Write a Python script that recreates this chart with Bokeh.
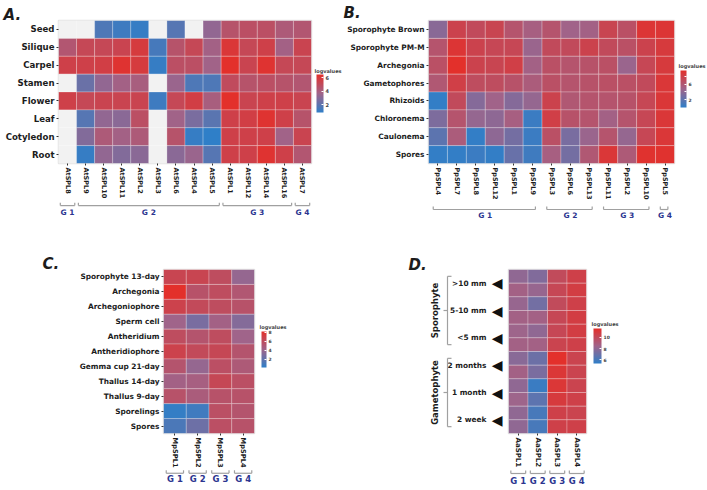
import math
import numpy as np
from bokeh.plotting import figure
from bokeh.models import (ColumnDataSource, LinearColorMapper, ColorBar, FixedTicker,
                          Range1d, LinearAxis)
from bokeh.layouts import row, column
from bokeh.embed import file_html
from bokeh.resources import INLINE
from bokeh.core.properties import value

NaN = float("nan")

# ---------------- Panel A: Arabidopsis thaliana ----------------
a_genes = ["AtSPL8", "AtSPL9", "AtSPL10", "AtSPL11", "AtSPL2", "AtSPL3", "AtSPL6",
           "AtSPL4", "AtSPL5", "AtSPL1", "AtSPL12", "AtSPL14", "AtSPL16", "AtSPL7"]
a_tissues = ["Seed", "Silique", "Carpel", "Stamen", "Flower", "Leaf", "Cotyledon", "Root"]
a_values = [
    [NaN, NaN, 1.6, 1.2, 1.0, NaN, 1.8, NaN, 3.3, 4.6, 4.8, 4.8, 4.2, 4.4],
    [4.4, 5.2, 5.2, 5.4, 5.9, 1.4, 4.6, 5.2, 3.8, 6.1, 5.2, 5.6, 3.8, 5.4],
    [5.6, 5.6, 5.7, 6.3, 5.9, 1.0, 4.8, 4.8, 3.7, 6.5, 5.4, 6.3, 5.2, 5.2],
    [NaN, 2.3, 3.3, 3.8, 4.0, NaN, 3.5, 1.6, 1.6, 5.0, 4.6, 4.8, 4.6, 4.4],
    [5.6, 5.2, 5.4, 5.4, 5.4, 1.2, 5.2, 5.7, 4.0, 6.5, 5.4, 5.6, 5.6, 5.4],
    [NaN, 1.8, 3.3, 3.1, 4.8, NaN, 3.7, 2.7, 1.9, 5.6, 5.7, 6.3, 5.6, 4.6],
    [NaN, 2.9, 4.2, 3.8, 4.2, NaN, 4.6, 1.0, 0.8, 5.6, 5.6, 5.6, 3.7, 5.4],
    [NaN, 1.0, 3.3, 2.9, 3.1, NaN, 3.1, 3.5, 1.8, 5.6, 5.6, 6.3, 5.6, 4.4],
]
a_group_names = ["G 1", "G 2", "G 3", "G 4"]
a_group_genes = [["AtSPL8"],
                 ["AtSPL9", "AtSPL10", "AtSPL11", "AtSPL2", "AtSPL3", "AtSPL6", "AtSPL4", "AtSPL5"],
                 ["AtSPL1", "AtSPL12", "AtSPL14", "AtSPL16"],
                 ["AtSPL7"]]
a_legend_ticks = [2, 4, 6]
a_limits = [0.8, 6.5]

# ---------------- Panel B: Physcomitrella patens ----------------
b_genes = ["PpSPL4", "PpSPL7", "PpSPL8", "PpSPL12", "PpSPL1", "PpSPL9", "PpSPL3",
           "PpSPL6", "PpSPL13", "PpSPL11", "PpSPL2", "PpSPL10", "PpSPL5"]
b_tissues = ["Sporophyte Brown", "Sporophyte PM-M", "Archegonia", "Gametophores",
             "Rhizoids", "Chloronema", "Caulonema", "Spores"]
b_values = [
    [3.8, 7.8, 7.1, 7.6, 6.2, 5.2, 6.2, 4.8, 5.0, 7.6, 6.6, 9.0, 9.0],
    [6.2, 9.0, 7.8, 7.4, 7.4, 4.5, 7.1, 7.1, 7.8, 7.1, 6.6, 7.8, 8.6],
    [6.6, 9.5, 7.8, 7.6, 8.1, 5.0, 6.6, 6.2, 6.4, 6.6, 4.5, 7.4, 8.6],
    [5.9, 8.1, 6.9, 6.9, 6.4, 5.5, 6.6, 6.2, 6.4, 6.6, 6.6, 7.1, 8.8],
    [0.2, 7.1, 3.6, 4.8, 3.6, 4.3, 7.8, 5.9, 6.2, 6.2, 6.4, 7.4, 8.8],
    [3.3, 6.2, 4.3, 4.0, 5.2, 0.5, 8.1, 6.4, 6.2, 5.0, 6.2, 7.4, 8.8],
    [1.9, 5.5, 0.2, 4.0, 2.9, 0.5, 6.6, 3.1, 4.5, 6.2, 4.3, 7.4, 8.8],
    [0.2, 0.2, 0.5, 0.2, 2.4, 0.7, 5.2, 2.9, 5.9, 8.8, 5.7, 9.3, 9.3],
]
b_group_names = ["G 1", "G 2", "G 3", "G 4"]
b_group_genes = [["PpSPL4", "PpSPL7", "PpSPL8", "PpSPL12", "PpSPL1", "PpSPL9"],
                 ["PpSPL3", "PpSPL6", "PpSPL13"],
                 ["PpSPL11", "PpSPL2", "PpSPL10"],
                 ["PpSPL5"]]
b_legend_ticks = [2, 4, 6, 8]
b_limits = [0.0, 9.5]

# ---------------- Panel C: Marchantia polymorpha ----------------
c_genes = ["MpSPL1", "MpSPL2", "MpSPL3", "MpSPL4"]
c_tissues = ["Sporophyte 13-day", "Archegonia", "Archegoniophore", "Sperm cell",
             "Antheridium", "Antheridiophore", "Gemma cup 21-day", "Thallus 14-day",
             "Thallus 9-day", "Sporelings", "Spores"]
c_values = [
    [6.6, 6.6, 6.0, 3.8],
    [8.2, 5.6, 6.0, 5.2],
    [6.8, 6.2, 6.0, 5.6],
    [4.2, 2.8, 4.4, 3.2],
    [6.0, 5.4, 6.0, 4.2],
    [6.8, 6.2, 6.4, 5.4],
    [5.4, 3.8, 5.8, 5.0],
    [4.4, 4.6, 6.4, 5.8],
    [5.6, 4.8, 5.6, 5.6],
    [0.4, 0.8, 5.8, 5.4],
    [1.2, 2.4, 5.8, 5.6],
]
c_group_names = ["G 1", "G 2", "G 3", "G 4"]
c_group_genes = [["MpSPL1"], ["MpSPL2"], ["MpSPL3"], ["MpSPL4"]]
c_legend_ticks = [2, 4, 6, 8]
c_limits = [0.2, 8.2]

# ---------------- Panel D: Anthoceros agrestis ----------------
d_genes = ["AaSPL1", "AaSPL2", "AaSPL3", "AaSPL4"]
d_stages = [">10 mm", "5-10 mm", "<5 mm", "2 months", "1 month", "2 week"]
d_replicates = 2
d_phases = ["Sporophyte", "Gametophyte"]
d_phase_stages = [[">10 mm", "5-10 mm", "<5 mm"], ["2 months", "1 month", "2 week"]]
d_values = [  # two replicate rows per stage, columns = genes
    [8.0, 7.6, 10.0, 10.6],
    [8.6, 8.2, 10.2, 10.8],
    [8.2, 7.2, 10.0, 10.6],
    [8.6, 8.6, 10.2, 10.8],
    [8.4, 8.0, 10.2, 10.8],
    [8.6, 8.6, 10.4, 10.6],
    [7.8, 7.0, 11.6, 10.4],
    [8.6, 7.4, 11.2, 10.4],
    [8.0, 5.6, 11.2, 10.4],
    [8.4, 6.6, 11.0, 10.6],
    [8.0, 6.0, 10.6, 10.4],
    [8.0, 6.0, 10.6, 10.6],
]
d_group_names = ["G 1", "G 2", "G 3", "G 4"]
d_group_genes = [["AaSPL1"], ["AaSPL2"], ["AaSPL3"], ["AaSPL4"]]
d_legend_ticks = [6, 8, 10]
d_limits = [5.3, 11.6]

# ---------------- styling helpers ----------------
FONT = "DejaVu Sans"
TXT = "#1c1c1c"
GROUP_COL = "#2b3590"
BRACKET = "#a0a0a0"


def hex2rgb(h):
    h = h.lstrip("#")
    return [int(h[i:i + 2], 16) for i in (0, 2, 4)]


def ramp(stops, n=256):
    out = []
    for i in range(n):
        t = i / (n - 1)
        for (t0, c0), (t1, c1) in zip(stops[:-1], stops[1:]):
            if t0 <= t <= t1:
                f = (t - t0) / (t1 - t0)
                a, b = hex2rgb(c0), hex2rgb(c1)
                rgb = [round(a[k] + (b[k] - a[k]) * f) for k in range(3)]
                out.append("#%02x%02x%02x" % tuple(rgb))
                break
    return out


PALETTE = ramp([(0.0, "#2f7fc8"), (0.5, "#a0648a"), (1.0, "#e3302b")])


def style_axis(ax, font_size, vertical=False, ticks=True):
    ax.axis_line_color = None
    ax.major_tick_line_color = "#333333" if ticks else None
    ax.major_tick_out = 2
    ax.major_tick_in = 0
    ax.minor_tick_line_color = None
    ax.major_label_text_font = FONT
    ax.major_label_text_font_style = "bold"
    ax.major_label_text_font_size = font_size
    ax.major_label_text_color = TXT
    ax.major_label_standoff = 2
    if vertical:
        ax.major_label_orientation = "vertical"


def base_fig(w, h, borders, ncols, nrows):
    left, right, top, bottom = borders
    fw, fh = w - left - right, h - top - bottom
    p = figure(width=w, height=h, x_range=Range1d(0, ncols), y_range=Range1d(nrows, 0),
               output_backend="svg", toolbar_location=None,
               min_border_left=left, min_border_right=right,
               min_border_top=top, min_border_bottom=bottom)
    # pixel-offset ranges measured from the frame's bottom-left corner
    p.extra_x_ranges = {"px": Range1d(0, fw)}
    p.extra_y_ranges = {"py": Range1d(0, fh)}
    p.background_fill_color = "#f2f2f2"
    p.border_fill_color = "white"
    p.outline_line_color = "#e4e4e4"
    p.outline_line_width = 1.5
    p.grid.visible = False
    return p, fw, fh


def label_axis(ax, labels):
    centers = [i + 0.5 for i in range(len(labels))]
    ax.ticker = FixedTicker(ticks=centers)
    ax.major_label_overrides = {c: s for c, s in zip(centers, labels)}


def add_text(p, xs, ys, texts, size, color=TXT, style="bold", align="center",
             baseline="middle", angle=0.0, xr="px", yr="py"):
    kw = {}
    if xr is not None:
        kw["x_range_name"] = xr
    if yr is not None:
        kw["y_range_name"] = yr
    p.text(x=xs, y=ys, text=texts, angle=angle, text_align=align, text_baseline=baseline,
           text_font=value(FONT), text_font_style=style, text_font_size=size,
           text_color=color, level="overlay", **kw)


def add_colorbar(p, mapper, ticks, x, y, w, h, fs):
    cb = ColorBar(color_mapper=mapper, ticker=FixedTicker(ticks=ticks),
                  location=(x, y), width=w, height=h, padding=0, title=None,
                  major_label_text_font=FONT, major_label_text_font_size=fs,
                  major_label_text_font_style="bold", major_label_text_color="#444444",
                  label_standoff=2, major_tick_line_color="white", major_tick_in=2,
                  major_tick_out=0, bar_line_color=None, border_line_color=None,
                  background_fill_alpha=0.0)
    p.add_layout(cb)
    add_text(p, [x - 2], [y + h + 2], ["logvalues"], "5px", color="#444444",
             align="left", baseline="bottom")


def add_groups(p, genes, names, members, base, label_y, lo, hi, fs, tick=3):
    x0, x1, y0, y1, mid = [], [], [], [], []
    for m in members:
        i0, i1 = genes.index(m[0]), genes.index(m[-1])
        a, b = i0 + lo, i1 + 1 - hi
        x0 += [a, a, b]
        x1 += [b, a, b]
        y0 += [base, base, base]
        y1 += [base, base + tick, base + tick]
        mid.append((i0 + i1 + 1) / 2)
    p.segment(x0=x0, y0=y0, x1=x1, y1=y1, y_range_name="py", line_color=BRACKET,
              line_width=1.2, level="overlay")
    add_text(p, mid, [label_y] * len(names), names, fs, color=GROUP_COL, xr=None)


def add_cells(p, values, ncols, limits):
    cx, cy, vv = [], [], []
    for r, rowvals in enumerate(values):
        for c in range(ncols):
            cx.append(c + 0.5)
            cy.append(r + 0.5)
            vv.append(rowvals[c])
    src = ColumnDataSource(dict(x=cx, y=cy, v=np.array(vv, dtype=float)))
    mapper = LinearColorMapper(palette=PALETTE, low=limits[0], high=limits[1],
                               nan_color="#f2f2f2")
    p.rect(x="x", y="y", width=1, height=1, source=src,
           fill_color={"field": "v", "transform": mapper},
           line_color="white", line_alpha=0.35, line_width=0.7)
    return mapper


def heatmap(genes, tissues, values, limits, w, h, borders):
    p, fw, fh = base_fig(w, h, borders, len(genes), len(tissues))
    mapper = add_cells(p, values, len(genes), limits)
    label_axis(p.xaxis[0], genes)
    label_axis(p.yaxis[0], tissues)
    return p, mapper, fw, fh


# ---------------- Panel A ----------------
pA, mA, fwA, fhA = heatmap(a_genes, a_tissues, a_values, a_limits, 343, 250, (58, 32, 18, 86))
style_axis(pA.xaxis[0], "6.5px", vertical=True)
style_axis(pA.yaxis[0], "8.6px")
add_colorbar(pA, mA, a_legend_ticks, 258, 51, 7, 38, "5px")
add_groups(pA, a_genes, a_group_names, a_group_genes, -43, -50, 0.1, 0.1, "7.5px")
add_text(pA, [-55], [fhA + 15], ["A."], "15px", style="bold italic", align="left",
         baseline="top")

# ---------------- Panel B ----------------
pB, mB, fwB, fhB = heatmap(b_genes, b_tissues, b_values, b_limits, 364, 250, (85, 33, 20, 87))
style_axis(pB.xaxis[0], "6.5px", vertical=True)
style_axis(pB.yaxis[0], "7.4px")
add_colorbar(pB, mB, b_legend_ticks, 252, 56, 6, 37, "4.5px")
add_groups(pB, b_genes, b_group_names, b_group_genes, -46, -52, 0.25, 0.35, "7.5px")
add_text(pB, [-85], [fhB + 17], ["B."], "15px", style="bold italic", align="left",
         baseline="top")

# ---------------- Panel C ----------------
pC, mC, fwC, fhC = heatmap(c_genes, c_tissues, c_values, c_limits, 400, 240, (163, 146, 19, 56))
style_axis(pC.xaxis[0], "6.7px", vertical=True)
style_axis(pC.yaxis[0], "7.4px")
add_colorbar(pC, mC, c_legend_ticks, 98, 66, 5, 36, "4.5px")
add_groups(pC, c_genes, c_group_names, c_group_genes, -40, -46, 0.12, 0.12, "8.5px")
add_text(pC, [-121], [fhC + 15], ["C."], "15px", style="bold italic", align="left",
         baseline="top")

# ---------------- Panel D ----------------
n_rows = len(d_stages) * d_replicates
pD, fwD, fhD = base_fig(307, 240, (108, 121, 19, 57), len(d_genes), n_rows)
mD = add_cells(pD, d_values, len(d_genes), d_limits)
label_axis(pD.xaxis[0], d_genes)
style_axis(pD.xaxis[0], "7px", vertical=True)
pD.yaxis[0].visible = False

stage_ticks = [i * d_replicates + d_replicates / 2 for i in range(len(d_stages))]
tri_axis = LinearAxis(ticker=FixedTicker(ticks=stage_ticks),
                      major_label_overrides={t: "\u25C0" for t in stage_ticks})
style_axis(tri_axis, "14px", ticks=False)
tri_axis.major_label_text_font_style = "normal"
tri_axis.major_label_text_color = "#111111"
tri_axis.major_label_standoff = 4
pD.add_layout(tri_axis, "left")
txt_axis = LinearAxis(ticker=FixedTicker(ticks=stage_ticks),
                      major_label_overrides={t: s for t, s in zip(stage_ticks, d_stages)})
style_axis(txt_axis, "7.4px", ticks=False)
txt_axis.major_label_standoff = 0
pD.add_layout(txt_axis, "left")

# phase brackets (vertical, with end stubs to the right and a middle stub to the left)
bx = -61
sx0, sx1, sy0, sy1, ph_mid = [], [], [], [], []
for stages in d_phase_stages:
    i0, i1 = d_stages.index(stages[0]), d_stages.index(stages[-1])
    lo = i0 * d_replicates + 0.5
    hi = (i1 + 1) * d_replicates - 0.5
    mid = (i0 + i1 + 1) * d_replicates / 2
    ph_mid.append(mid)
    sx0 += [bx, bx, bx, bx]
    sx1 += [bx, bx + 4, bx + 4, bx - 4]
    sy0 += [lo, lo, hi, mid]
    sy1 += [hi, lo, hi, mid]
pD.segment(x0=sx0, y0=sy0, x1=sx1, y1=sy1, x_range_name="px", line_color=BRACKET,
           line_width=1.2, level="overlay")
add_text(pD, [-74] * len(d_phases), ph_mid, d_phases, "8.5px", angle=math.pi / 2, yr=None)
add_colorbar(pD, mD, d_legend_ticks, 85, 70, 8, 35, "4.5px")
add_groups(pD, d_genes, d_group_names, d_group_genes, -40, -47, 0.12, 0.12, "8.5px")
add_text(pD, [-100], [fhD + 14], ["D."], "15px", style="bold italic", align="left",
         baseline="top")

layout = column(row(pA, pB), row(pC, pD))
open("out.html", "w").write(file_html(layout, INLINE))
